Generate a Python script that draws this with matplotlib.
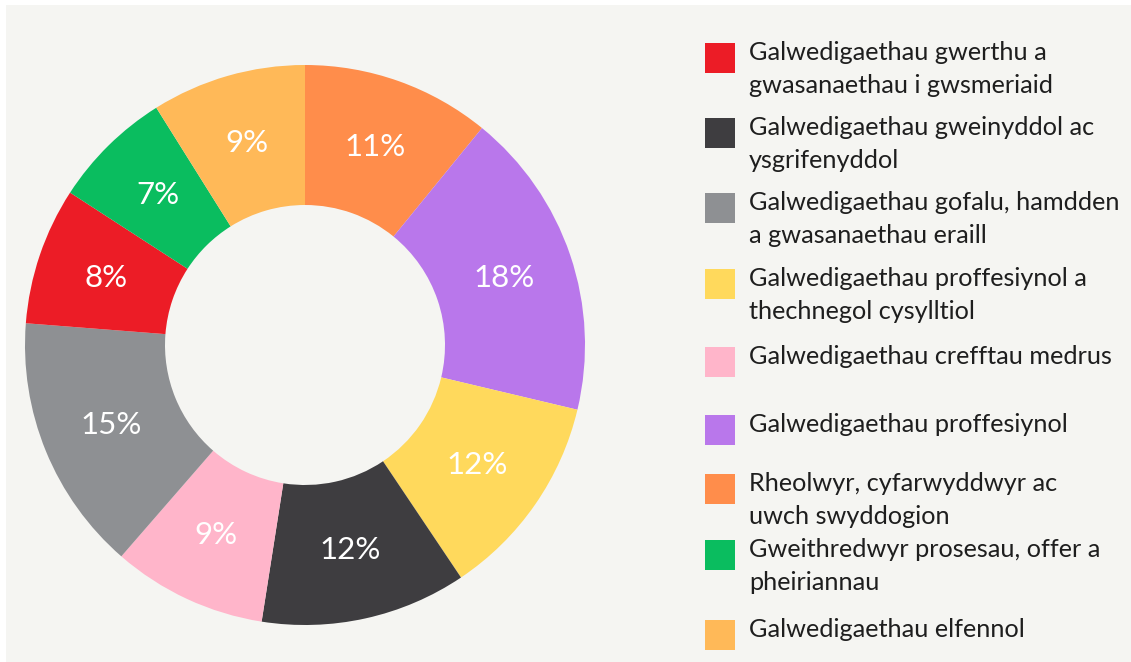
import numpy as np
import matplotlib.pyplot as plt
from matplotlib.patches import Rectangle

# data, clockwise from 12 o'clock
pie_labels = ['Rheolwyr, cyfarwyddwyr ac\nuwch swyddogion',
              'Galwedigaethau proffesiynol',
              'Galwedigaethau proffesiynol a\nthechnegol cysylltiol',
              'Galwedigaethau gweinyddol ac\nysgrifenyddol',
              'Galwedigaethau crefftau medrus',
              'Galwedigaethau gofalu, hamdden\na gwasanaethau eraill',
              'Galwedigaethau gwerthu a\ngwasanaethau i gwsmeriaid',
              'Gweithredwyr prosesau, offer a\npheiriannau',
              'Galwedigaethau elfennol']
pie_values = [11, 18, 12, 12, 9, 15, 8, 7, 9]
pie_colors = ['#FF8D4B', '#B977EB', '#FFD95C', '#3E3D40', '#FFB5CA',
              '#8E9093', '#EC1C26', '#0ABD5F', '#FFB958']

# legend order
legend_order = [6, 3, 5, 2, 4, 1, 0, 7, 8]
legend_tops = [43, 118, 193, 269, 347, 415, 474, 540, 620]

bg = '#F5F5F2'
plt.rcParams['font.family'] = ['Lato', 'DejaVu Sans']

fig = plt.figure(figsize=(11.31, 6.62), dpi=100)
fig.patch.set_facecolor('white')
fig.add_artist(Rectangle((6 / 1131, 0), 1, 1 - 5 / 662, transform=fig.transFigure,
                         facecolor=bg, edgecolor='none', zorder=0))

# donut
cx, cy, R = 305, 345, 280
ax = fig.add_axes([(cx - R) / 1131, (662 - cy - R) / 662, 2 * R / 1131, 2 * R / 662])
ax.set_facecolor('none')
wedges, texts = ax.pie(pie_values, colors=pie_colors, startangle=90, counterclock=False,
                       radius=1, wedgeprops=dict(width=0.5, edgecolor='none'))
for v, w in zip(pie_values, wedges):
    mid = np.deg2rad((w.theta1 + w.theta2) / 2)
    ax.text(0.75 * np.cos(mid), 0.75 * np.sin(mid), f'{v}%', ha='center', va='center',
            color='white', fontsize=22.5)
ax.set_xlim(-1, 1)
ax.set_ylim(-1, 1)
ax.set_aspect('equal')
ax.axis('off')

# legend, in pixel coordinates
lax = fig.add_axes([0, 0, 1, 1])
lax.set_xlim(0, 1131)
lax.set_ylim(662, 0)
lax.axis('off')
lax.set_facecolor('none')
for i, top in zip(legend_order, legend_tops):
    lax.add_patch(Rectangle((705, top), 30, 30, facecolor=pie_colors[i], edgecolor='none'))
    for k, line in enumerate(pie_labels[i].split('\n')):
        lax.text(749, top + 17 + 33 * k, line, ha='left', va='baseline',
                 fontsize=18.2, color='#1E1E1E')

fig.savefig('out.png', dpi=100, facecolor=fig.get_facecolor())
